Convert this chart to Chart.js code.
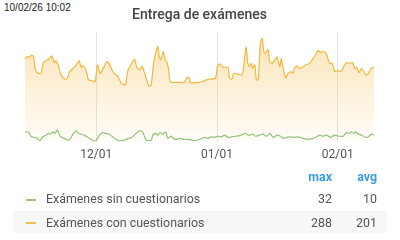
<!DOCTYPE html>
<html>
<head>
<meta charset="utf-8">
<script src="https://cdn.jsdelivr.net/npm/chart.js@4/dist/chart.umd.min.js"></script>
<style>
  html, body { margin: 0; padding: 0; background: #fff; }
  body { width: 400px; height: 240px; position: relative; overflow: hidden; font-family: Roboto, sans-serif; }
  #stamp { position: absolute; left: 4px; top: 2px; font: 10px "Liberation Sans", Arial, sans-serif; color: #222; }
  #wrap { position: absolute; left: 0; top: 0; width: 400px; height: 168px; }
  #legend { position: absolute; left: 13px; top: 166px; width: 374px; border-collapse: collapse; font-size: 12.4px; color: #555; }
  #legend td, #legend th { padding: 0; }
  #legend tr.head { height: 20px; }
  #legend tr.even { height: 25px; }
  #legend tr.odd { height: 22px; background: #f7f7f7; }
  #legend th { color: #3a9de0; font-weight: 700; text-align: right; }
  #legend td.num { text-align: right; }
  .sw { display: inline-block; width: 10px; height: 2px; vertical-align: middle; margin: 0 10px 0 13px; }
</style>
</head>
<body>
<div id="stamp">10/02/26 10:02</div>
<div id="wrap"><canvas id="entregas-chart"></canvas></div>
<table id="legend">
  <tr class="head"><th style="width:270px"></th><th style="width:49px">max</th><th style="width:45px">avg</th><th style="width:10px"></th></tr>
  <tr class="even"><td><span class="sw" style="background:#92c47c"></span>Exámenes sin cuestionarios</td><td class="num">32</td><td class="num">10</td><td></td></tr>
  <tr class="odd"><td><span class="sw" style="background:#f0bd4a"></span>Exámenes con cuestionarios</td><td class="num">288</td><td class="num">201</td><td></td></tr>
</table>
<script>
// days counted from 2025-12-01 00:00
const monthTicks = [0, 31, 62];
const monthLabels = ["12/01", "01/01", "02/01"];

const conDays = [-18.3, -17.7, -17.1, -16.7, -16.1, -15.7, -15.1, -14.2, -13.6, -12.9, -12.1, -11.4, -10.8, -10.4, -9.8, -9.1, -8.1, -7.4, -6.8, -5.7, -5.1, -4.4, -3.9, -3.5, -2.7, -2.0, -1.1, -0.3, 0.3, 1.0, 1.8, 2.7, 3.3, 4.0, 4.6, 5.5, 6.4, 7.5, 8.1, 8.9, 9.8, 10.4, 11.1, 11.8, 12.4, 12.8, 13.5, 14.1, 14.7, 15.2, 15.8, 16.2, 16.6, 17.2, 17.7, 18.1, 18.6, 19.0, 21.4, 22.6, 23.1, 23.8, 24.1, 26.5, 27.8, 29.1, 30.6, 31.2, 31.8, 32.5, 33.8, 34.2, 34.8, 35.3, 36.4, 37.5, 38.1, 38.5, 38.9, 39.4, 39.8, 40.2, 40.7, 41.1, 41.6, 42.1, 42.6, 43.0, 43.5, 44.1, 44.5, 45.2, 45.8, 46.4, 47.1, 47.5, 47.9, 48.6, 49.2, 50.1, 50.5, 50.9, 51.5, 52.2, 52.9, 53.8, 54.8, 55.7, 56.3, 56.9, 57.6, 58.4, 59.1, 59.9, 60.6, 61.2, 61.8, 62.3, 63.0, 63.6, 64.2, 65.1, 65.8, 66.4, 66.8, 67.5, 68.1, 68.7, 69.2, 69.8, 70.4, 71.1, 71.3];
const conValues = [230, 237, 235, 241, 237, 202, 192, 190, 220, 226, 230, 239, 220, 225, 214, 188, 174, 177, 195, 207, 214, 226, 207, 211, 202, 172, 170, 167, 214, 190, 204, 223, 218, 200, 190, 183, 163, 158, 198, 214, 230, 207, 200, 209, 190, 177, 155, 158, 218, 244, 265, 235, 228, 251, 228, 223, 200, 167, 165, 165, 177, 178, 165, 165, 170, 174, 177, 214, 216, 207, 207, 177, 174, 190, 188, 186, 237, 263, 218, 209, 218, 204, 214, 172, 172, 274, 288, 251, 246, 256, 223, 218, 228, 235, 209, 232, 209, 177, 190, 195, 190, 204, 211, 204, 207, 214, 218, 232, 242, 254, 248, 251, 244, 218, 218, 195, 198, 195, 198, 211, 220, 218, 220, 204, 207, 192, 204, 195, 186, 188, 202, 207, 204];

const sinDays = [-18.3, -17.4, -16.8, -16.0, -15.1, -14.5, -13.8, -12.9, -12.3, -11.7, -11.1, -10.6, -10.0, -9.3, -8.2, -7.1, -6.3, -5.7, -5.2, -4.6, -3.9, -3.1, -2.2, -1.0, -0.1, 0.8, 1.6, 2.3, 3.2, 4.0, 5.1, 6.4, 7.6, 9.3, 10.2, 11.1, 11.9, 12.8, 14.1, 14.5, 15.2, 15.8, 16.4, 17.1, 17.8, 18.4, 19.2, 19.8, 20.5, 21.4, 22.6, 23.9, 25.2, 26.5, 27.8, 28.6, 29.5, 30.4, 31.2, 32.1, 32.9, 33.8, 34.7, 35.9, 37.2, 38.3, 39.2, 40.1, 40.9, 41.8, 42.8, 43.7, 44.5, 45.5, 46.4, 47.3, 48.1, 49.0, 49.8, 50.7, 51.8, 53.1, 54.4, 55.7, 56.5, 57.4, 58.2, 59.1, 60.1, 61.2, 62.3, 63.4, 64.2, 64.9, 65.5, 66.1, 66.6, 67.2, 68.1, 69.0, 69.8, 70.7, 71.3];
const sinValues = [26, 27, 15, 12, 9, 2, 13, 18, 23, 21, 27, 23, 32, 15, 9, 4, 15, 25, 30, 23, 21, 18, 12, 4, 2, 18, 25, 23, 21, 15, 6, 2, 6, 13, 23, 30, 27, 4, 4, 18, 23, 18, 25, 21, 27, 9, 15, 9, 6, 9, 6, 6, 2, 6, 12, 9, 13, 12, 15, 13, 18, 12, 13, 15, 18, 23, 17, 21, 15, 18, 21, 15, 23, 12, 18, 15, 9, 12, 13, 12, 13, 9, 6, 9, 13, 18, 15, 18, 12, 18, 15, 15, 25, 23, 27, 23, 27, 21, 18, 12, 13, 21, 18];

function toPoints(days, values) {
  return days.map((d, i) => ({ x: d, y: values[i] }));
}

function orangeFill(context) {
  const area = context.chart.chartArea;
  if (!area) return 'rgba(247, 200, 100, 0.3)';
  const g = context.chart.ctx.createLinearGradient(0, area.top, 0, area.bottom);
  g.addColorStop(0, 'rgba(245, 190, 80, 0.42)');
  g.addColorStop(1, 'rgba(245, 190, 80, 0.04)');
  return g;
}

function initChart() {
  const ctx = document.getElementById("entregas-chart");
  const data = {
    datasets: [{
      label: 'Exámenes sin cuestionarios',
      data: toPoints(sinDays, sinValues),
      borderColor: '#92c47c',
      borderWidth: 1.2,
      pointRadius: 0,
      fill: false,
      tension: 0.3
    }, {
      label: 'Exámenes con cuestionarios',
      data: toPoints(conDays, conValues),
      borderColor: '#f0b83c',
      backgroundColor: orangeFill,
      borderWidth: 1.2,
      pointRadius: 0,
      fill: 'origin',
      tension: 0.2
    }]
  };
  const config = {
    type: 'line',
    data: data,
    options: {
      responsive: true,
      maintainAspectRatio: false,
      animation: false,
      layout: {
        padding: { left: 25, right: 26, top: 0, bottom: 0 }
      },
      plugins: {
        legend: { display: false },
        tooltip: { enabled: false },
        title: {
          display: true,
          text: 'Entrega de exámenes',
          color: '#444',
          font: { family: 'Roboto', size: 14, weight: '500' },
          padding: { top: 7, bottom: 8 }
        }
      },
      scales: {
        x: {
          type: 'linear',
          min: -18.3,
          max: 71.3,
          border: { display: false },
          grid: { color: '#e4e4e4', drawTicks: false },
          afterBuildTicks: (axis) => {
            axis.ticks = monthTicks.map(v => ({ value: v }));
          },
          ticks: {
            padding: 6,
            color: '#555',
            font: { family: 'Roboto', size: 12 },
            maxRotation: 0,
            autoSkip: false,
            callback: (value) => monthLabels[monthTicks.indexOf(value)]
          }
        },
        y: {
          display: false,
          min: 0,
          max: 306
        }
      }
    }
  };
  return new Chart(ctx, config);
}

const lineChart = initChart();
</script>
</body>
</html>
